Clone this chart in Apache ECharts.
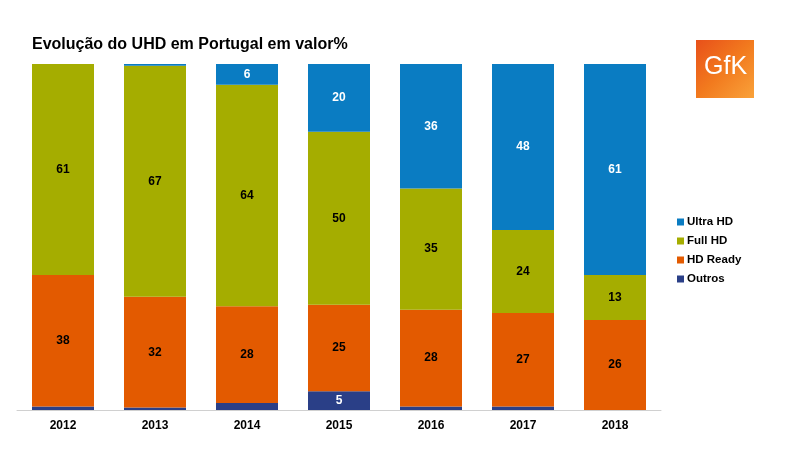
<!DOCTYPE html>
<html><head><meta charset="utf-8">
<script src="https://cdn.jsdelivr.net/npm/echarts@6/dist/echarts.min.js"></script>
<style>html,body{margin:0;padding:0;background:#fff}#c{width:800px;height:450px}</style>
</head><body><div id="c"></div>
<script>
const years = ['2012','2013','2014','2015','2016','2017','2018'];
const outros = [1, 0.7, 2, 5.4, 1, 1, 0];
const hdReady = [38, 32, 28, 25, 28, 27, 26];
const fullHD = [61, 66.8, 64, 50, 35, 24, 13];
const ultraHD = [0, 0.5, 6, 20, 36, 48, 61];
const labelMin = 3;

const chart = echarts.init(document.getElementById('c'));
function mk(name, data, color, txtColor) {
  return {
    name, type: 'bar', stack: 'a', data, barWidth: 62,
    itemStyle: { color },
    label: {
      show: true, position: 'inside', color: txtColor,
      fontFamily: 'Liberation Sans, Arial', fontWeight: 'bold', fontSize: 12,
      formatter: p => p.value >= labelMin ? Math.round(p.value) : ''
    }
  };
}
chart.setOption({
  animation: false,
  title: { text: 'Evolução do UHD em Portugal em valor%', left: 27, top: 32,
    textStyle: { fontFamily: 'Liberation Sans, Arial', fontWeight: 'bold', fontSize: 16, color: '#000' } },
  grid: { left: 17, width: 644, top: 64, height: 346 },
  legend: {
    orient: 'vertical', left: 672, top: 211, itemWidth: 7, itemHeight: 7, itemGap: 7,
    icon: 'rect',
    data: ['Ultra HD', 'Full HD', 'HD Ready', 'Outros'],
    textStyle: { fontFamily: 'Liberation Sans, Arial', fontWeight: 'bold', fontSize: 11.5, color: '#000', padding: [0,0,0,-2] }
  },
  xAxis: { type: 'category', data: years,
    axisLine: { lineStyle: { color: '#d0d0d0' } }, axisTick: { show: false },
    axisLabel: { fontFamily: 'Liberation Sans, Arial', fontWeight: 'bold', fontSize: 12, color: '#000', margin: 10 } },
  yAxis: { type: 'value', min: 0, max: 100, show: false, splitLine: { show: false } },
  series: [
    mk('Outros', outros, '#2a3f87', '#fff'),
    mk('HD Ready', hdReady, '#e35a00', '#000'),
    mk('Full HD', fullHD, '#a5ad00', '#000'),
    mk('Ultra HD', ultraHD, '#0a7cc2', '#fff')
  ],
  graphic: [
    { type: 'rect', left: 696, top: 40, shape: { width: 58, height: 58 },
      style: { fill: new echarts.graphic.LinearGradient(0, 0, 1, 1, [
        { offset: 0, color: '#e8501a' }, { offset: 0.5, color: '#f27a1e' }, { offset: 1, color: '#f9a23a' }]) } },
    { type: 'text', left: 704, top: 55, style: { text: 'GfK', fill: '#fff',
      font: '25px Liberation Sans Narrow, Arial Narrow, Liberation Sans' } }
  ]
});
</script></body></html>
